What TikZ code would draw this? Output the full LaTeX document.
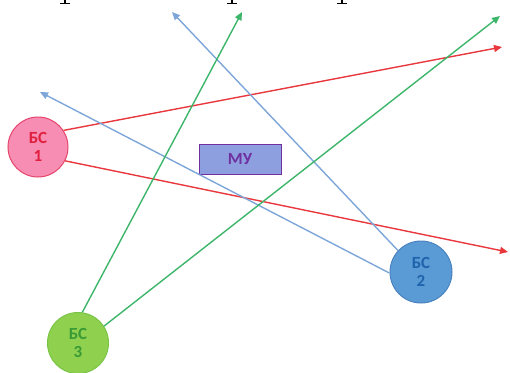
\documentclass[tikz,border=0pt]{standalone}
\usepackage{fontspec}
\newfontfamily\lblfont{Carlito}
\usetikzlibrary{arrows.meta}

\definecolor{bsonefill}{HTML}{F78DB3}
\definecolor{bsonedraw}{HTML}{E5456B}
\definecolor{bsonetext}{HTML}{E0203F}
\definecolor{bstwofill}{HTML}{5B9BD5}
\definecolor{bstwodraw}{HTML}{4A82BE}
\definecolor{bstwotext}{HTML}{1F63AD}
\definecolor{bsthreefill}{HTML}{8FD14F}
\definecolor{bsthreedraw}{HTML}{79C446}
\definecolor{bsthreetext}{HTML}{3A9A35}
\definecolor{mufill}{HTML}{8E9FE0}
\definecolor{mudraw}{HTML}{7030A0}
\definecolor{linkred}{HTML}{E8383D}
\definecolor{linkblue}{HTML}{7EA6D8}
\definecolor{linkgreen}{HTML}{3DB56A}

\tikzset{
  station/.style={circle, minimum size=#1, inner sep=0pt, line width=1pt,
    align=center, font=\lblfont\bfseries\fontsize{17}{18}\selectfont},
  mobile/.style={rectangle, minimum width=82pt, minimum height=30pt, inner sep=0pt,
    line width=1pt, fill=mufill, draw=mudraw, text=mudraw,
    font=\lblfont\bfseries\fontsize{17}{18}\selectfont},
  link/.style={line width=1.4pt, -{Triangle[length=8pt,width=7pt]}},
}

\begin{document}
\begin{tikzpicture}[x=1pt, y=-1pt]
  \useasboundingbox (0,0) rectangle (510,372);

  % tails of the cropped heading line
  \foreach \cx in {65,232,342} {
    \fill[black] (\cx-1,0) rectangle (\cx+1.2,3.2);
    \fill[black] (\cx-5,3) rectangle (\cx+5,4.3);
  }

  % free ends of the radio links
  \coordinate (r1) at (502,47);
  \coordinate (r2) at (508,252);
  \coordinate (bl1) at (172,12);
  \coordinate (bl2) at (40,92);
  \coordinate (g1) at (242,12);
  \coordinate (g2) at (500,16);

  % stations and the mobile unit
  \node[station=60pt, fill=bsonefill, draw=bsonedraw, text=bsonetext] (b1) at (38,147) {БС\\1};
  \node[station=62pt, fill=bstwofill, draw=bstwodraw, text=bstwotext] (b2) at (421,272) {БС\\2};
  \node[station=61pt, fill=bsthreefill, draw=bsthreedraw, text=bsthreetext] (b3) at (78,343) {БС\\3};
  \node[mobile] (mu) at (240,159) {МУ};

  % links
  \draw[link, draw=linkred] (b1.33) -- (r1);
  \draw[link, draw=linkred] (b1.-27) -- (r2);
  \draw[link, draw=linkblue] (b2.137) -- (bl1);
  \draw[link, draw=linkblue] (b2.182) -- (bl2);
  \draw[link, draw=linkgreen] (b3.82) -- (g1);
  \draw[link, draw=linkgreen] (b3.33) -- (g2);
\end{tikzpicture}
\end{document}
